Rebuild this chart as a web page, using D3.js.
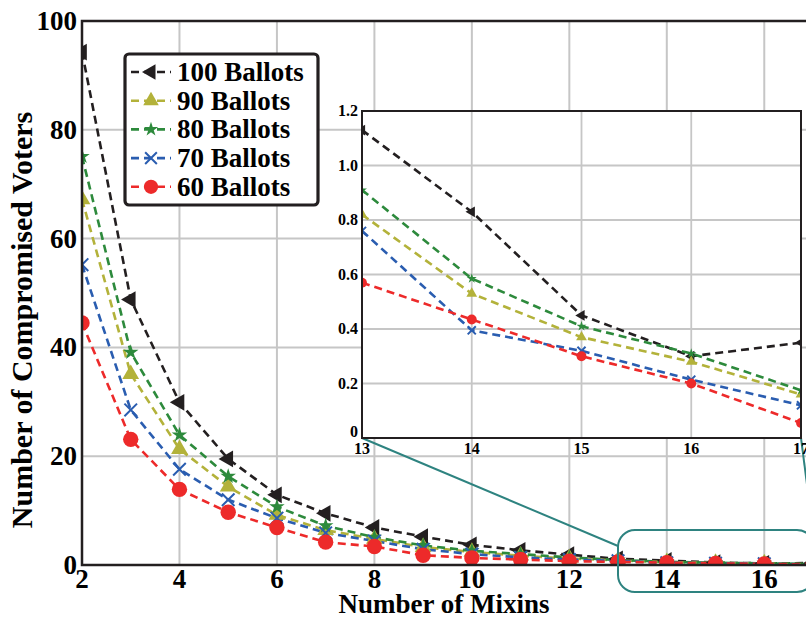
<!DOCTYPE html>
<html><head><meta charset="utf-8">
<script src="https://cdn.jsdelivr.net/npm/d3@7"></script>
<style>html,body{margin:0;padding:0;background:#fff;overflow:hidden}</style>
</head><body>
<svg id="c" width="806" height="619"></svg>
<script>
const mixins = [2,3,4,5,6,7,8,9,10,11,12,13,14,15,16,17];
const ballots100 = [94.3,48.8,29.9,19.5,12.9,9.5,6.9,5.2,3.7,2.7,1.9,1.13,0.83,0.45,0.30,0.35];
const ballots90  = [67.2,35.1,21.3,14.4,9.2,6.4,4.8,3.3,2.4,1.7,1.2,0.82,0.53,0.37,0.28,0.16];
const ballots80  = [75.1,39.1,23.9,16.3,10.7,7.2,5.1,3.6,2.6,2.0,1.4,0.91,0.585,0.41,0.31,0.175];
const ballots70  = [55.2,28.5,17.6,12.0,8.6,5.9,4.4,2.9,2.0,1.4,1.0,0.76,0.395,0.32,0.214,0.12];
const ballots60  = [44.5,23.1,13.9,9.7,6.9,4.2,3.4,1.8,1.3,1.0,0.7,0.57,0.435,0.30,0.20,0.055];
const seriesNames = ["100 Ballots","90 Ballots","80 Ballots","70 Ballots","60 Ballots"];
const mainXTicks = [2,4,6,8,10,12,14,16];
const mainYTicks = [0,20,40,60,80,100];
const insetXTicks = [13,14,15,16,17];
const insetYTicks = [0,0.2,0.4,0.6,0.8,1.0,1.2];
const insetYLabels = ["0","0.2","0.4","0.6","0.8","1.0","1.2"];

const colors = ["#231f20","#b3b23a","#2d8a3c","#2a5db0","#ed2a2a"];
const shapes = ["tri-left","tri-up","star","cross","circle"];
const allSeries = [ballots100,ballots90,ballots80,ballots70,ballots60];
const font = "'Liberation Serif','Times New Roman',serif";
const grid = "#c6c6c6";
const teal = "#2e8380";

const svg = d3.select("#c");

function marker(g, shape, color, s) {
  if (shape === "circle") {
    g.append("circle").attr("r", s*0.55).attr("fill", color);
  } else if (shape === "cross") {
    const r = s*0.45;
    g.append("path").attr("d", `M${-r},${-r}L${r},${r}M${-r},${r}L${r},${-r}`)
      .attr("stroke", color).attr("stroke-width", 2).attr("fill","none");
  } else if (shape === "star") {
    g.append("path").attr("d", d3.symbol(d3.symbolStar, s*s*0.38)()).attr("fill", color);
  } else {
    const p = d3.symbol(d3.symbolTriangle, s*s*0.62)();
    g.append("path").attr("d", p).attr("fill", color)
      .attr("transform", shape === "tri-left" ? "rotate(-90)" : null);
  }
}

// ---------- main plot ----------
const M = {l:82, t:21, b:565, r:813};
const x = d3.scaleLinear().domain([2,17]).range([M.l, M.r]);
const y = d3.scaleLinear().domain([0,100]).range([M.b, M.t]);

svg.append("defs").append("clipPath").attr("id","mainClip")
  .append("rect").attr("x",M.l).attr("y",M.t).attr("width",M.r-M.l).attr("height",M.b-M.t);

svg.append("g").selectAll("line").data(mainXTicks.filter(d=>d>2)).join("line")
  .attr("x1",d=>x(d)).attr("x2",d=>x(d)).attr("y1",M.t).attr("y2",M.b)
  .attr("stroke",grid).attr("stroke-width",2);
svg.append("g").selectAll("line").data(mainYTicks.filter(d=>d>0&&d<100)).join("line")
  .attr("y1",d=>y(d)).attr("y2",d=>y(d)).attr("x1",M.l).attr("x2",M.r)
  .attr("stroke",grid).attr("stroke-width",2);

const line = d3.line().x((d,i)=>x(mixins[i])).y(d=>y(d));
const mainG = svg.append("g").attr("clip-path","url(#mainClip)");
allSeries.forEach((s,k)=>{
  mainG.append("path").attr("d", line(s)).attr("fill","none")
    .attr("stroke",colors[k]).attr("stroke-width",2.6).attr("stroke-dasharray","8,5");
});
allSeries.forEach((s,k)=>{
  s.forEach((v,i)=>{
    const g = mainG.append("g").attr("transform",`translate(${x(mixins[i])},${y(v)})`);
    marker(g, shapes[k], colors[k], 14);
  });
});

svg.append("path").attr("d",`M${M.r},${M.t}H${M.l}V${M.b}H${M.r}`)
  .attr("fill","none").attr("stroke","#231f20").attr("stroke-width",2.5);

svg.append("g").selectAll("text").data(mainXTicks).join("text")
  .attr("x",d=>x(d)).attr("y",588).attr("text-anchor","middle")
  .attr("font-family",font).attr("font-weight","bold").attr("font-size",27)
  .text(d=>d);
svg.append("g").selectAll("text").data(mainYTicks).join("text")
  .attr("x",77).attr("y",d=>y(d)+9).attr("text-anchor","end")
  .attr("font-family",font).attr("font-weight","bold").attr("font-size",27)
  .text(d=>d);

svg.append("text").attr("x",444).attr("y",613).attr("text-anchor","middle")
  .attr("font-family",font).attr("font-weight","bold").attr("font-size",27)
  .text("Number of Mixins");
svg.append("text").attr("transform","translate(32,320) rotate(-90)").attr("text-anchor","middle")
  .attr("font-family",font).attr("font-weight","bold").attr("font-size",30)
  .text("Number of Compromised Voters");

// ---------- zoom indicator ----------
svg.append("rect").attr("x",618).attr("y",530).attr("width",196).attr("height",62).attr("rx",17)
  .attr("fill","none").attr("stroke",teal).attr("stroke-width",2);

// ---------- inset ----------
const I = {l:362, t:111, b:438, r:801};
const xi = d3.scaleLinear().domain([13,17]).range([I.l, I.r]);
const yi = d3.scaleLinear().domain([0,1.2]).range([I.b, I.t]);

svg.append("line").attr("x1",I.l).attr("y1",I.b).attr("x2",618).attr("y2",546)
  .attr("stroke",teal).attr("stroke-width",2);
svg.append("line").attr("x1",I.r).attr("y1",I.b).attr("x2",813).attr("y2",531)
  .attr("stroke",teal).attr("stroke-width",2);

svg.select("defs").append("clipPath").attr("id","insetClip")
  .append("rect").attr("x",I.l).attr("y",I.t).attr("width",I.r-I.l).attr("height",I.b-I.t);

svg.append("rect").attr("x",I.l).attr("y",I.t).attr("width",I.r-I.l).attr("height",I.b-I.t)
  .attr("fill","#fff");
svg.append("g").selectAll("line").data(insetXTicks.slice(1,-1)).join("line")
  .attr("x1",d=>xi(d)).attr("x2",d=>xi(d)).attr("y1",I.t).attr("y2",I.b)
  .attr("stroke",grid).attr("stroke-width",1.8);
svg.append("g").selectAll("line").data(insetYTicks.slice(1,-1)).join("line")
  .attr("y1",d=>yi(d)).attr("y2",d=>yi(d)).attr("x1",I.l).attr("x2",I.r)
  .attr("stroke",grid).attr("stroke-width",1.8);

const insetIdx = mixins.map((m,i)=>i).filter(i=>mixins[i]>=13);
const insetG = svg.append("g").attr("clip-path","url(#insetClip)");
allSeries.forEach((s,k)=>{
  const pts = insetIdx.map(i=>[xi(mixins[i]), yi(s[i])]);
  insetG.append("path").attr("d", d3.line()(pts)).attr("fill","none")
    .attr("stroke",colors[k]).attr("stroke-width",2.6).attr("stroke-dasharray","8,5");
});
allSeries.forEach((s,k)=>{
  insetIdx.forEach(i=>{
    const g = insetG.append("g").attr("transform",`translate(${xi(mixins[i])},${yi(s[i])})`);
    marker(g, shapes[k], colors[k], 9);
  });
});
svg.append("rect").attr("x",I.l).attr("y",I.t).attr("width",I.r-I.l).attr("height",I.b-I.t)
  .attr("fill","none").attr("stroke","#231f20").attr("stroke-width",2);

svg.append("g").selectAll("text").data(insetXTicks).join("text")
  .attr("x",d=>xi(d)).attr("y",454).attr("text-anchor","middle")
  .attr("font-family",font).attr("font-weight","bold").attr("font-size",16)
  .text(d=>d);
svg.append("g").selectAll("text").data(insetYTicks).join("text")
  .attr("x",358).attr("y",d=>Math.min(yi(d)+5, I.b-1)).attr("text-anchor","end")
  .attr("font-family",font).attr("font-weight","bold").attr("font-size",16)
  .text((d,i)=>insetYLabels[i]);

// ---------- legend ----------
const L = svg.append("g");
L.append("rect").attr("x",125).attr("y",54).attr("width",193).attr("height",151).attr("rx",4)
  .attr("fill","#fff").attr("stroke","#231f20").attr("stroke-width",3.2);
seriesNames.forEach((n,k)=>{
  const cy = 72 + k*28.7;
  L.append("line").attr("x1",131).attr("x2",171).attr("y1",cy).attr("y2",cy)
    .attr("stroke",colors[k]).attr("stroke-width",2.6).attr("stroke-dasharray","8,5");
  const g = L.append("g").attr("transform",`translate(151,${cy})`);
  marker(g, shapes[k], colors[k], 13);
  L.append("text").attr("x",177).attr("y",cy+9)
    .attr("font-family",font).attr("font-weight","bold").attr("font-size",27)
    .text(n);
});
</script>
</body></html>
